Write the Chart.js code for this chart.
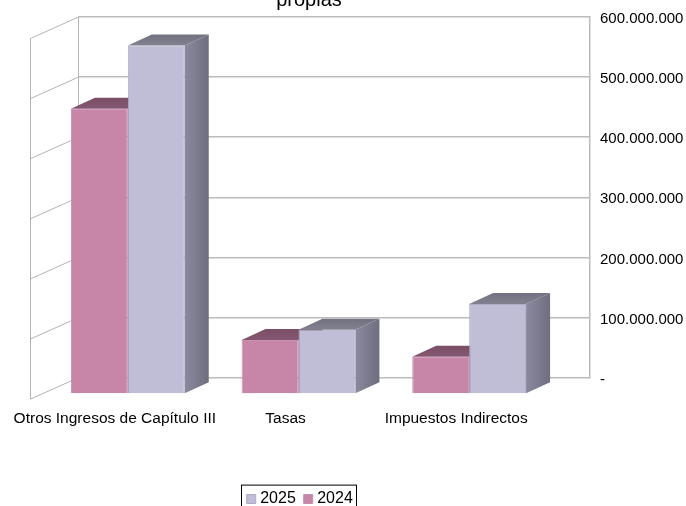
<!DOCTYPE html>
<html>
<head>
<meta charset="utf-8">
<title>Ingresos</title>
<script src="https://cdn.jsdelivr.net/npm/chart.js@4"></script>
<style>
    html, body { margin: 0; padding: 0; background: #fff; overflow: hidden; width: 686px; height: 506px; }
    canvas { position: absolute; left: 0; top: -12px; }
</style>
</head>
<body>
<canvas id="chart" width="686" height="529"></canvas>
<script>
// Datos
const categories = ["Otros Ingresos de Capítulo III", "Tasas", "Impuestos Indirectos"];
const values2024 = [475000000, 90000000, 62000000];
const values2025 = [580000000, 107000000, 150000000];
const yTickLabels = ["-", "100.000.000", "200.000.000", "300.000.000", "400.000.000", "500.000.000", "600.000.000"];

const FONT = "'Liberation Sans', Arial, sans-serif";
const GRID = "#b3b3b3";

// Profundidad del efecto 3D
const WALL_DX = 48, WALL_DY = 21.5;
const BAR_SHIFT_X = -35.5, BAR_SHIFT_Y = 16.5;
const DEPTH_X = 24, DEPTH_Y = 11;

// Pared izquierda con sus lineas, usando la escala Y
const wallPlugin = {
    id: "wall",
    beforeDatasetsDraw(chart) {
        const ctx = chart.ctx;
        const y = chart.scales.y;
        const left = chart.chartArea.left + 0.5;
        ctx.save();
        ctx.strokeStyle = GRID;
        ctx.lineWidth = 1;
        ctx.beginPath();
        y.ticks.forEach(t => {
            const py = y.getPixelForValue(t.value);
            ctx.moveTo(left - WALL_DX, py + WALL_DY);
            ctx.lineTo(left, py);
        });
        ctx.moveTo(left - WALL_DX, y.top + WALL_DY);
        ctx.lineTo(left - WALL_DX, y.bottom + WALL_DY);
        ctx.moveTo(left, y.top);
        ctx.lineTo(left, y.bottom);
        ctx.stroke();
        ctx.restore();
    }
};

// Caras superior y lateral; las frontales las pinta Chart.js desplazadas
const bar3dPlugin = {
    id: "bar3d",
    beforeDatasetsDraw(chart) {
        const ctx = chart.ctx;
        ctx.save();
        ctx.translate(BAR_SHIFT_X, BAR_SHIFT_Y);
        chart.data.datasets.forEach((ds, i) => {
            chart.getDatasetMeta(i).data.forEach(bar => {
                const l = bar.x - bar.width / 2, r = bar.x + bar.width / 2;
                const t = bar.y, b = bar.base;

                const side = ctx.createLinearGradient(r, 0, r + DEPTH_X, 0);
                side.addColorStop(0, ds.sideColors[0]);
                side.addColorStop(1, ds.sideColors[1]);
                ctx.fillStyle = side;
                ctx.beginPath();
                ctx.moveTo(r, t);
                ctx.lineTo(r + DEPTH_X, t - DEPTH_Y);
                ctx.lineTo(r + DEPTH_X, b - DEPTH_Y);
                ctx.lineTo(r, b);
                ctx.closePath();
                ctx.fill();

                const top = ctx.createLinearGradient(0, t - DEPTH_Y, 0, t);
                top.addColorStop(0, ds.topColors[0]);
                top.addColorStop(1, ds.topColors[1]);
                ctx.fillStyle = top;
                ctx.beginPath();
                ctx.moveTo(l, t);
                ctx.lineTo(l + DEPTH_X, t - DEPTH_Y);
                ctx.lineTo(r + DEPTH_X, t - DEPTH_Y);
                ctx.lineTo(r, t);
                ctx.closePath();
                ctx.fill();
            });
        });
    },
    afterDatasetsDraw(chart) {
        chart.ctx.restore();
    }
};

// Titulo y leyenda no estan centrados en el original, y la leyenda lleva marco
const placementPlugin = {
    id: "placement",
    afterLayout(chart) {
        chart.titleBlock.left -= 73;
        chart.titleBlock.right -= 73;
        chart.legend.left -= 80.5;
        chart.legend.right -= 80.5;
    },
    afterDraw(chart) {
        const ctx = chart.ctx;
        ctx.save();
        ctx.strokeStyle = "#000";
        ctx.lineWidth = 1;
        ctx.strokeRect(241.5, chart.legend.top + 5.5, 115, chart.height);
        ctx.restore();
    }
};

new Chart(document.getElementById("chart"), {
    type: "bar",
    data: {
        labels: categories,
        datasets: [
            {
                label: "2024",
                data: values2024,
                backgroundColor: "#c786a8",
                borderColor: "#c78fb0",
                borderWidth: 1,
                clip: false,
                sideColors: ["#8e5f78", "#714a60"],
                topColors: ["#7a4f66", "#845670"]
            },
            {
                label: "2025",
                data: values2025,
                backgroundColor: "#c0bdd6",
                borderColor: "#aeabc6",
                borderWidth: 1,
                clip: false,
                sideColors: ["#8a899f", "#6f6e7f"],
                topColors: ["#72717f", "#82818f"]
            }
        ]
    },
    plugins: [wallPlugin, bar3dPlugin, placementPlugin],
    options: {
        responsive: false,
        animation: false,
        layout: { padding: { left: 78 } },
        datasets: { bar: { barPercentage: 1, categoryPercentage: 0.667 } },
        plugins: {
            title: {
                display: true,
                text: "propias",
                color: "#000",
                font: { family: FONT, size: 20, weight: "normal" },
                padding: { top: 0, bottom: 5 }
            },
            legend: {
                position: "bottom",
                reverse: true,
                labels: {
                    color: "#000",
                    font: { family: FONT, size: 16 },
                    usePointStyle: true,
                    pointStyle: "rect",
                    boxWidth: 2,
                    boxHeight: 9,
                    padding: 11.4
                }
            },
            tooltip: { enabled: false }
        },
        scales: {
            x: {
                afterFit(scale) { scale.height = 102; },
                grid: { display: false },
                border: { display: false },
                ticks: {
                    color: "#000",
                    font: { family: FONT, size: 15.5 },
                    padding: 24,
                    labelOffset: -48.5,
                    maxRotation: 0,
                    autoSkip: false
                }
            },
            y: {
                position: "right",
                min: 0,
                max: 600000000,
                afterFit(scale) { scale.width = 96; },
                grid: { color: "#bbbbbb", lineWidth: 1.5, drawTicks: false },
                border: { color: "#bbbbbb", width: 1.5 },
                ticks: {
                    color: "#000",
                    font: { family: FONT, size: 15 },
                    padding: 10,
                    labelOffset: 2,
                    stepSize: 100000000,
                    callback: (value, index) => yTickLabels[index]
                }
            }
        }
    }
});
</script>
</body>
</html>
